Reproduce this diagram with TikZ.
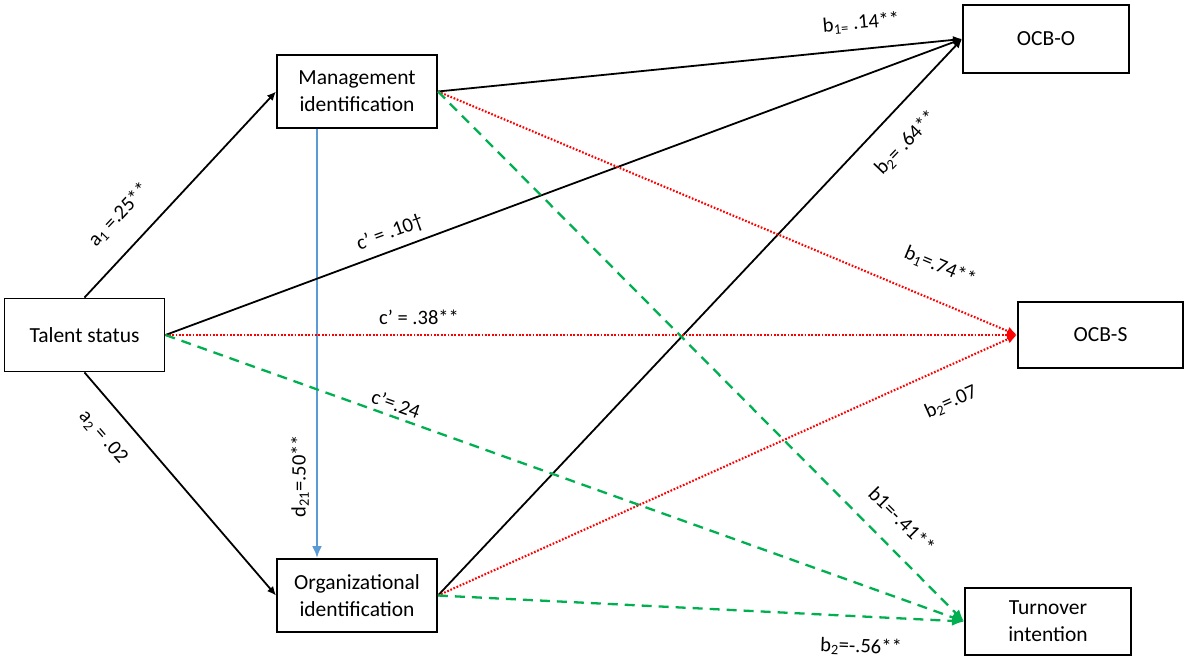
\documentclass[tikz,border=0pt]{standalone}
\usepackage{fontspec}
\setmainfont{Carlito}
\usetikzlibrary{arrows.meta}
\definecolor{pathred}{RGB}{255,0,0}
\definecolor{pathgreen}{RGB}{0,176,80}
\definecolor{pathblue}{RGB}{91,155,213}
\tikzset{
	var/.style={draw, line width=1.9pt, minimum width=160pt, minimum height=73pt, align=center, inner sep=2pt, font=\fontsize{21.5}{27}\selectfont},
	lab/.style={font=\fontsize{20.5}{24}\selectfont, inner sep=1pt},
	pblack/.style={line width=1.8pt, -{Latex[length=9pt,width=8pt]}},
	pred/.style={pathred, line width=2.1pt, dash pattern=on 1.7pt off 1.7pt, -{Latex[length=10pt,width=9pt]}},
	pgreen/.style={pathgreen, line width=2.3pt, dash pattern=on 10pt off 7pt, -{Latex[length=12pt,width=10pt]}},
	pblue/.style={pathblue, line width=2.5pt, -{Latex[length=12pt,width=10pt]}},
}
\begin{document}
\begin{tikzpicture}[x=1pt, y=-1pt]
		\useasboundingbox (0,0) rectangle (1185,660);

		% variabili
		\node[var] (tal) at (84.5,335) {Talent status};
		\node[var] (mgmt) at (357,91.5) {Management\\identification};
		\node[var] (org) at (357,595.5) {Organizational\\identification};
		\node[var, minimum width=166pt, minimum height=68pt] (ocbo) at (1046,39) {OCB-O};
		\node[var, minimum width=165pt, minimum height=66pt] (ocbs) at (1100.5,335) {OCB-S};
		\node[var, minimum width=166pt, minimum height=67pt] (turn) at (1048,621.5) {Turnover\\intention};

		% percorsi a
		\draw[pblack] (tal.north) -- (mgmt.west);
		\draw[pblack] (tal.south) -- (org.west);
		\draw[pblue] ([xshift=-40pt]mgmt.south) -- ([xshift=-40pt]org.north);

		% OCB-O
		\draw[pblack] (mgmt.east) -- (ocbo.west);
		\draw[pblack] (tal.east) -- (ocbo.west);
		\draw[pblack] (org.east) -- (ocbo.west);

		% OCB-S
		\draw[pred] (tal.east) -- (ocbs.west);
		\draw[pred] (mgmt.east) -- (ocbs.west);
		\draw[pred] (org.east) -- (ocbs.west);

		% turnover
		\draw[pgreen] (tal.east) -- (turn.west);
		\draw[pgreen] (mgmt.east) -- (turn.west);
		\draw[pgreen] (org.east) -- (turn.west);

		% coefficienti
		\node[lab, rotate=46.5] (la1) at (119,215) {a\textsubscript{1} =.25**};
		\node[lab, rotate=-49] (la2) at (103,437) {a\textsubscript{2} = .02};
		\node[lab, rotate=90] (ld21) at (300,476) {d\textsubscript{21}=.50**};
		\node[lab, rotate=20] (lc1) at (390,233) {c’ = .10†};
		\node[lab] (lc2) at (419,317) {c’ = .38**};
		\node[lab, rotate=-19.6] (lc3) at (396,404) {c’=.24};
		\node[lab, rotate=5] (lb1o) at (861,23) {b\textsubscript{1=} .14**};
		\node[lab, rotate=46.4] (lb2o) at (906,143) {b\textsubscript{2}= .64**};
		\node[lab, rotate=-22.7] (lb1s) at (940,267) {b\textsubscript{1}=.74**};
		\node[lab, rotate=24] (lb2s) at (951,402) {b\textsubscript{2}=.07};
		\node[lab, rotate=-45] (lb1t) at (902,520) {b1=-.41**};
		\node[lab, rotate=-2] (lb2t) at (861,647) {b\textsubscript{2}=-.56**};
	\end{tikzpicture}
\end{document}
